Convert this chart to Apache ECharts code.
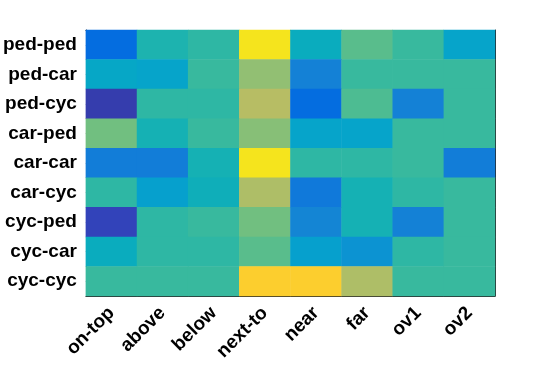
<!DOCTYPE html>
<html><head><meta charset="utf-8">
<style>html,body{margin:0;padding:0;background:#fff}#c{width:538px;height:392px}</style>
<script src="https://cdn.jsdelivr.net/npm/echarts@6/dist/echarts.min.js"></script>
</head><body><div id="c"></div>
<script>
const xCategories = ['on-top','above','below','next-to','near','far','ov1','ov2'];
const yCategories = ['ped-ped','ped-car','ped-cyc','car-ped','car-car','car-cyc','cyc-ped','cyc-car','cyc-cyc'];
// values on a 0..63 colormap index scale, one row per yCategory
const rowPedPed = [10, 29, 31, 60, 26, 35, 32, 23];
const rowPedCar = [24, 23, 32, 40, 15, 32, 32, 32];
const rowPedCyc = [3, 31, 31, 44, 10, 34, 15, 32];
const rowCarPed = [37, 28, 32, 39, 23, 23, 32, 32];
const rowCarCar = [14, 14, 28, 60, 31, 31, 32, 14];
const rowCarCyc = [31, 22, 27, 43, 13, 28, 31, 32];
const rowCycPed = [4, 31, 32, 37, 16, 28, 15, 32];
const rowCycCar = [26, 31, 31, 35, 22, 19, 31, 32];
const rowCycCyc = [32, 32, 32, 56, 56, 43, 32, 32];
const rows = [rowPedPed,rowPedCar,rowPedCyc,rowCarPed,rowCarCar,rowCarCyc,rowCycPed,rowCycCar,rowCycCyc];

const parula = [[0.2081,0.1663,0.5292],[0.2116,0.1898,0.5777],[0.2123,0.2138,0.6270],[0.2081,0.2386,0.6771],[0.1959,0.2645,0.7279],[0.1707,0.2919,0.7792],[0.1253,0.3242,0.8303],[0.0591,0.3598,0.8683],[0.0117,0.3875,0.8820],[0.0060,0.4086,0.8828],[0.0165,0.4266,0.8786],[0.0329,0.4430,0.8720],[0.0498,0.4586,0.8641],[0.0629,0.4737,0.8554],[0.0723,0.4887,0.8467],[0.0779,0.5040,0.8384],[0.0793,0.5200,0.8312],[0.0749,0.5375,0.8263],[0.0641,0.5570,0.8240],[0.0488,0.5772,0.8228],[0.0343,0.5966,0.8199],[0.0265,0.6137,0.8135],[0.0239,0.6287,0.8038],[0.0231,0.6418,0.7913],[0.0228,0.6535,0.7768],[0.0267,0.6642,0.7607],[0.0384,0.6743,0.7436],[0.0590,0.6838,0.7254],[0.0843,0.6928,0.7062],[0.1133,0.7015,0.6859],[0.1453,0.7098,0.6646],[0.1801,0.7177,0.6424],[0.2178,0.7250,0.6193],[0.2586,0.7317,0.5954],[0.3022,0.7376,0.5712],[0.3482,0.7424,0.5473],[0.3953,0.7459,0.5244],[0.4420,0.7481,0.5033],[0.4871,0.7491,0.4840],[0.5300,0.7491,0.4661],[0.5709,0.7485,0.4494],[0.6099,0.7473,0.4337],[0.6473,0.7456,0.4188],[0.6834,0.7435,0.4044],[0.7184,0.7411,0.3905],[0.7525,0.7384,0.3768],[0.7858,0.7356,0.3633],[0.8185,0.7327,0.3498],[0.8507,0.7299,0.3360],[0.8824,0.7274,0.3217],[0.9139,0.7258,0.3063],[0.9450,0.7261,0.2886],[0.9739,0.7314,0.2666],[0.9938,0.7455,0.2403],[0.9990,0.7653,0.2164],[0.9955,0.7861,0.1967],[0.9880,0.8066,0.1794],[0.9789,0.8271,0.1633],[0.9697,0.8481,0.1475],[0.9626,0.8705,0.1309],[0.9589,0.8949,0.1132],[0.9598,0.9218,0.0948],[0.9661,0.9514,0.0755],[0.9763,0.9831,0.0538]];
const parulaHex = parula.map(c => 'rgb(' + c.map(v => Math.round(v*255)).join(',') + ')');

const data = [];
rows.forEach((r, yi) => r.forEach((v, xi) => data.push([xi, yi, v])));

const frame = '#262626';
const font = 'Arial, "Liberation Sans", Helvetica, sans-serif';
const chart = echarts.init(document.getElementById('c'), null, {renderer:'canvas'});
chart.setOption({
  animation: false,
  grid: {left: 85, right: 43, top: 30, bottom: 96, containLabel: false},
  xAxis: [{
    type: 'category', data: xCategories, position: 'bottom',
    axisLine: {show: true, lineStyle: {color: frame, width: 1}},
    axisTick: {show: true, inside: true, alignWithLabel: true, length: 4, lineStyle: {color: frame}},
    axisLabel: {rotate: 45, interval: 0, color: '#000', fontWeight: 'bold', fontSize: 19, fontFamily: font, margin: 14},
    splitLine: {show: false}
  }, {
    type: 'category', data: xCategories, position: 'top',
    axisLine: {show: true, lineStyle: {color: frame, width: 1}},
    axisTick: {show: true, inside: true, alignWithLabel: true, length: 4, lineStyle: {color: frame}},
    axisLabel: {show: false}, splitLine: {show: false}
  }],
  yAxis: [{
    type: 'category', data: yCategories, inverse: true, position: 'left',
    axisLine: {show: true, lineStyle: {color: frame, width: 1}},
    axisTick: {show: true, inside: true, alignWithLabel: true, length: 4, lineStyle: {color: frame}},
    axisLabel: {interval: 0, color: '#000', fontWeight: 'bold', fontSize: 19, fontFamily: font, margin: 9},
    splitLine: {show: false}
  }, {
    type: 'category', data: yCategories, inverse: true, position: 'right',
    axisLine: {show: true, lineStyle: {color: frame, width: 1}},
    axisTick: {show: true, inside: true, alignWithLabel: true, length: 4, lineStyle: {color: frame}},
    axisLabel: {show: false}, splitLine: {show: false}
  }],
  visualMap: {show: false, type: 'continuous', min: 0, max: 63, dimension: 2, inRange: {color: parulaHex}},
  series: [{
    type: 'heatmap', data: data, xAxisIndex: 0, yAxisIndex: 0,
    itemStyle: {borderWidth: 0}, emphasis: {disabled: true}, z: 1
  }]
});
</script></body></html>
